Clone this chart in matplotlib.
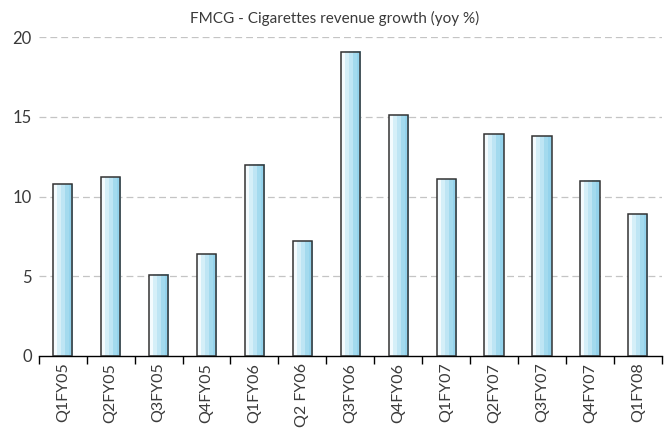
import numpy as np
import matplotlib
matplotlib.use("Agg")
import matplotlib.pyplot as plt
from matplotlib.colors import LinearSegmentedColormap

quarters = ["Q1FY05", "Q2FY05", "Q3FY05", "Q4FY05", "Q1FY06", "Q2 FY06",
            "Q3FY06", "Q4FY06", "Q1FY07", "Q2FY07", "Q3FY07", "Q4FY07",
            "Q1FY08"]
growth = [10.8, 11.2, 5.1, 6.4, 12.0, 7.2, 19.1, 15.1, 11.1, 13.9, 13.8,
          11.0, 8.9]

plt.rcParams["font.family"] = ["Lato", "DejaVu Sans"]

fig = plt.figure(figsize=(6.69, 4.29), dpi=100)
ax = fig.add_axes([38.8 / 669, 1 - 355.7 / 429, 623 / 669, 318.4 / 429])

x = np.arange(len(quarters))
width = 0.4

# bands from near-white on the left to light blue on the right
cmap = LinearSegmentedColormap.from_list(
    "barfill", ["#f4fbfe", "#d6f0f9", "#bfe6f5", "#a4dbef", "#94d3ec"])
grad = np.linspace(0, 1, 5).reshape(1, -1)

for xi, v in zip(x, growth):
    ax.imshow(grad, cmap=cmap, aspect="auto", interpolation="nearest",
              extent=(xi - width / 2, xi + width / 2, 0, v), zorder=2)
ax.bar(x, growth, width=width, facecolor="none", edgecolor="#333333",
       linewidth=1.1, zorder=3)

ax.set_xlim(-0.5, len(quarters) - 0.5)
ax.set_ylim(0, 20)
ax.set_yticks([0, 5, 10, 15, 20])
ax.tick_params(axis="y", length=0, labelsize=12, colors="#3a3a3a", pad=5)
for yv in [5, 10, 15, 20]:
    ax.axhline(yv, color="#c4c4c4", linestyle=(0, (5.5, 3.2)), linewidth=0.9,
               zorder=1)

ax.set_xticks(x)
ax.set_xticklabels(quarters, rotation=90, fontsize=11.5, color="#3a3a3a")
ax.tick_params(axis="x", which="major", length=0, pad=5)
ax.set_xticks(np.arange(-0.5, len(quarters)), minor=True)
ax.tick_params(axis="x", which="minor", length=6, width=1, color="black",
               direction="out")

for s in ["left", "right", "top"]:
    ax.spines[s].set_visible(False)
ax.spines["bottom"].set_color("black")
ax.spines["bottom"].set_linewidth(1)

fig.text(0.5, 1 - 18 / 429, "FMCG - Cigarettes revenue growth (yoy %)",
         ha="center", va="center", fontsize=11, color="#3a3a3a")

fig.savefig("out.png", dpi=100)
